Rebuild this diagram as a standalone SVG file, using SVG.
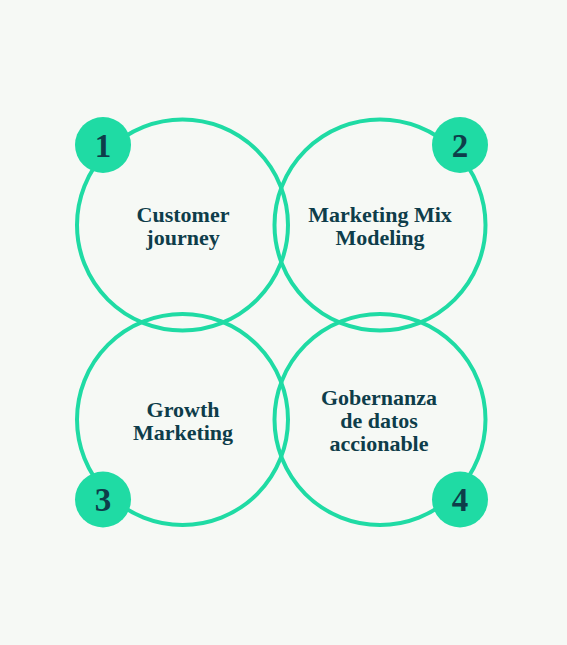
<svg xmlns="http://www.w3.org/2000/svg" width="567" height="645" viewBox="0 0 567 645">
<style>
.ring{fill:none;stroke:#1fdba4;stroke-width:4}
.badge{fill:#1fdba4}
.lbl{font-family:"Liberation Serif","Times New Roman",serif;font-weight:bold;font-size:22px;fill:#0e3d4a;text-anchor:middle}
.num{font-family:"Liberation Serif","Times New Roman",serif;font-weight:bold;font-size:33px;fill:#0e3d4a;text-anchor:middle}
</style>
<rect width="567" height="645" fill="#f6f9f5"/>
<g id="node1">
<circle class="ring" cx="182.5" cy="225" r="105.5"/>
<text class="lbl" x="183" y="222">Customer</text>
<text class="lbl" x="183" y="245">journey</text>
</g>
<g id="node2">
<circle class="ring" cx="380" cy="225" r="105.5"/>
<text class="lbl" x="380" y="222">Marketing Mix</text>
<text class="lbl" x="380" y="245">Modeling</text>
</g>
<g id="node3">
<circle class="ring" cx="182.5" cy="419.5" r="105.5"/>
<text class="lbl" x="183" y="417">Growth</text>
<text class="lbl" x="183" y="440">Marketing</text>
</g>
<g id="node4">
<circle class="ring" cx="380" cy="419.5" r="105.5"/>
<text class="lbl" x="379" y="405">Gobernanza</text>
<text class="lbl" x="379" y="428">de datos</text>
<text class="lbl" x="379" y="451">accionable</text>
</g>
<g id="badge1"><circle class="badge" cx="103" cy="145" r="28"/><text class="num" x="103" y="157">1</text></g>
<g id="badge2"><circle class="badge" cx="460" cy="145" r="28"/><text class="num" x="460" y="157">2</text></g>
<g id="badge3"><circle class="badge" cx="103" cy="499.5" r="28"/><text class="num" x="103" y="511">3</text></g>
<g id="badge4"><circle class="badge" cx="460" cy="499.5" r="28"/><text class="num" x="460" y="511">4</text></g>
</svg>
